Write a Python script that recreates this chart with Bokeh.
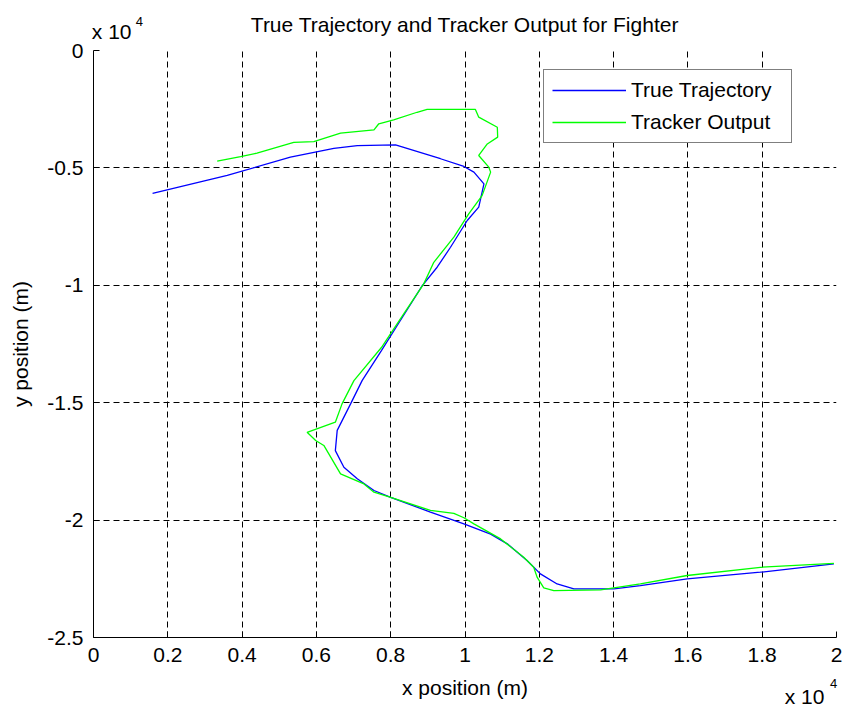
from bokeh.plotting import figure
from bokeh.models import FixedTicker, Range1d, Legend, LegendItem, LinearAxis
from bokeh.embed import file_html
from bokeh.resources import INLINE

# True fighter path (metres)
true_x = [1590, 3600, 5300, 6470, 7100, 8130, 9340, 9970, 10240, 10510,
          10370, 10060, 9610, 9250, 8850, 8260, 7750, 7230, 6920, 6560,
          6510, 6740, 7100, 7550, 8000, 9070, 9970, 10690, 11140, 11670,
          12030, 12480, 12930, 14010, 14720, 15980, 17950, 19930]
true_y = [-6090, -5320, -4540, -4170, -4050, -4020, -4610, -4940, -5180, -5680,
          -6670, -7240, -8380, -9230, -10010, -11500, -12780, -14060, -15050, -16180,
          -17040, -17750, -18240, -18740, -19030, -19660, -20160, -20600, -21010, -21720,
          -22290, -22720, -22930, -22930, -22790, -22500, -22220, -21860]

# Tracker estimate (metres)
trk_x = [3330, 3960, 4400, 5390, 5930, 6650, 7550, 7680, 8080, 8710,
         8980, 10280, 10370, 10870, 10880, 10600, 10370, 10640, 10690, 10460,
         10100, 9700, 9160, 8890, 8350, 7750, 7010, 6690, 6510, 5750,
         5980, 6200, 6650, 7280, 7550, 8000, 9070, 9700, 9970, 10240,
         10960, 11580, 11850, 11940, 12120, 12390, 13650, 14720, 15980, 17950,
         19930]
trk_y = [-4710, -4520, -4370, -3910, -3880, -3520, -3380, -3120, -2950, -2630,
         -2510, -2510, -2840, -3270, -3690, -3980, -4470, -4970, -5180, -6180,
         -6960, -7950, -9020, -9940, -11220, -12650, -14060, -15050, -15830, -16260,
         -16610, -16820, -18030, -18460, -18810, -19030, -19590, -19710, -19900, -20160,
         -20800, -21580, -22010, -22430, -22890, -23000, -22970, -22720, -22360, -22010,
         -21840]

x_ticks = [0, 2000, 4000, 6000, 8000, 10000, 12000, 14000, 16000, 18000, 20000]
x_tick_labels = ["0", "0.2", "0.4", "0.6", "0.8", "1", "1.2", "1.4", "1.6", "1.8", "2"]
y_ticks = [-25000, -20000, -15000, -10000, -5000, 0]
y_tick_labels = ["-2.5", "-2", "-1.5", "-1", "-0.5", "0"]

TITLE = "True Trajectory and Tracker Output for Fighter"
X_LABEL = "x position (m)"
Y_LABEL = "y position (m)"

FONT = "Liberation Sans"
FS = "21px"
FS_EXP = "13px"

p = figure(frame_width=743, frame_height=587,
           min_border_left=93, min_border_right=8, min_border_top=50, min_border_bottom=73,
           x_range=Range1d(0, 20000), y_range=Range1d(-25000, 0),
           output_backend="svg", toolbar_location=None, title=None)
p.outline_line_color = None
p.background_fill_color = "white"
p.border_fill_color = "white"


def style_axis(ax, font_size=FS):
    ax.minor_tick_line_color = None
    ax.minor_tick_in = 0
    ax.minor_tick_out = 0
    ax.axis_line_color = "black"
    ax.major_tick_line_color = "black"
    ax.major_label_text_font = FONT
    ax.major_label_text_font_size = font_size
    ax.major_label_text_color = "black"
    ax.axis_label_text_font = FONT
    ax.axis_label_text_font_size = FS
    ax.axis_label_text_font_style = "normal"
    ax.axis_label_text_color = "black"


for ax, ticks, labels in ((p.xaxis[0], x_ticks, x_tick_labels),
                          (p.yaxis[0], y_ticks, y_tick_labels)):
    style_axis(ax)
    ax.ticker = FixedTicker(ticks=ticks)
    ax.major_label_overrides = {t: l for t, l in zip(ticks, labels)}
    ax.major_tick_in = 6
    ax.major_tick_out = 0

p.xaxis.major_label_standoff = 10
p.yaxis.major_label_standoff = 10
p.yaxis.axis_label = Y_LABEL
p.yaxis.axis_label_standoff = 12
p.yaxis.major_label_orientation = "horizontal"


def text_axis(pos, text, font_size, standoff, label=None, label_standoff=0):
    """A bare axis (no line, no ticks) used only to place a piece of text."""
    ax = LinearAxis(ticker=FixedTicker(ticks=[pos]),
                    major_label_overrides={pos: text})
    style_axis(ax, font_size)
    ax.axis_line_color = None
    ax.major_tick_line_color = None
    ax.major_tick_in = 0
    ax.major_tick_out = 0
    ax.major_label_standoff = standoff
    if label is not None:
        ax.axis_label = label
        ax.axis_label_standoff = label_standoff
    return ax


# bottom: exponent "x 10^4" beside the x-axis label
p.add_layout(text_axis(19919, "4", FS_EXP, 14, label=X_LABEL, label_standoff=-15), "below")
p.add_layout(text_axis(19139, "x 10", FS, -17), "below")

# top: exponent "x 10^4" beneath the title
p.add_layout(text_axis(490, "x 10", FS, 8), "above")
p.add_layout(text_axis(1233, "4", FS_EXP, -9, label=TITLE, label_standoff=-22), "above")

for g in (p.xgrid[0], p.ygrid[0]):
    g.grid_line_color = "black"
    g.grid_line_dash = "6 4"
    g.grid_line_width = 1
p.xgrid.ticker = FixedTicker(ticks=x_ticks)
p.ygrid.ticker = FixedTicker(ticks=y_ticks)

r_true = p.line(true_x, true_y, line_color="#0000ff", line_width=1.3)
r_trk = p.line(trk_x, trk_y, line_color="#00ff00", line_width=1.3)

legend = Legend(items=[LegendItem(label="True Trajectory", renderers=[r_true]),
                       LegendItem(label="Tracker Output", renderers=[r_trk])],
                location=(450, 494), padding=8, spacing=8,
                label_height=20, glyph_height=20, glyph_width=74,
                label_width=152, label_standoff=5,
                label_text_font=FONT, label_text_font_size=FS,
                label_text_color="black",
                border_line_color="black", border_line_width=1,
                background_fill_color="white", background_fill_alpha=1)
p.add_layout(legend)

open("out.html", "w").write(file_html(p, INLINE))
